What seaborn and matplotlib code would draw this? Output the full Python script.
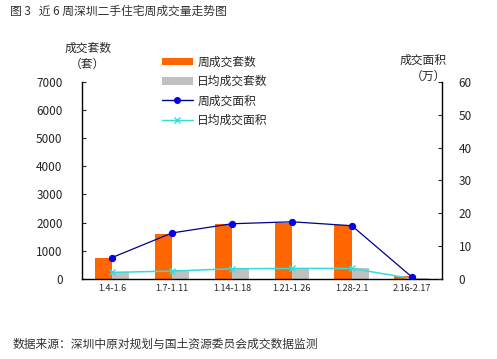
import matplotlib
matplotlib.use("Agg")
import matplotlib.pyplot as plt
import seaborn as sns
import numpy as np
import pandas as pd
from matplotlib.patches import Patch
from matplotlib.lines import Line2D

sns.set_style("white")
plt.rcParams['font.family'] = ['Noto Sans CJK SC', 'DejaVu Sans']

categories = ["1.4-1.6", "1.7-1.11", "1.14-1.18", "1.21-1.26", "1.28-2.1", "2.16-2.17"]
weekly_units = [750, 1600, 1950, 2000, 1900, 100]
daily_units = [250, 320, 390, 400, 400, 30]
weekly_area = [6.5, 14.0, 16.8, 17.4, 16.2, 0.6]
daily_area = [2.0, 2.4, 3.1, 3.2, 3.2, 0.1]
left_ticks = [0, 1000, 2000, 3000, 4000, 5000, 6000, 7000]
right_ticks = [0, 10, 20, 30, 40, 50, 60]

C_ORANGE = "#FF6600"
C_GRAY = "#C0C0C0"
C_BLUE = "#00008B"
C_BLUE_M = "#0000EE"
C_CYAN = "#33DDDD"

df = pd.DataFrame({
    "period": categories * 2,
    "value": weekly_units + daily_units,
    "series": ["周成交套数"] * len(categories) + ["日均成交套数"] * len(categories),
})

fig = plt.figure(figsize=(4.97, 3.59), dpi=100)
ax = fig.add_axes([0.165, 0.223, 0.724, 0.549])

sns.barplot(data=df, x="period", y="value", hue="series", order=categories,
            palette=[C_ORANGE, C_GRAY], width=0.58, ax=ax, legend=False,
            saturation=1, linewidth=0)
ax.set_ylim(0, 7000)
ax.set_yticks(left_ticks)
ax.set_xlabel("")
ax.set_ylabel("")
ax.set_xlim(-0.5, len(categories) - 0.5)

ax2 = ax.twinx()
xpos = np.arange(len(categories))
sns.lineplot(x=xpos, y=daily_area, ax=ax2, color=C_CYAN, marker="x",
             markersize=5, linewidth=1.1, markeredgecolor=C_CYAN, markeredgewidth=1)
sns.lineplot(x=xpos, y=weekly_area, ax=ax2, color=C_BLUE, marker="o",
             markersize=4.5, linewidth=0.9, markerfacecolor=C_BLUE_M,
             markeredgecolor=C_BLUE_M)
ax2.set_ylim(0, 60)
ax2.set_yticks(right_ticks)
ax2.set_xlim(-0.5, len(categories) - 0.5)

for a in (ax, ax2):
    a.spines['top'].set_visible(False)
    for s in ('left', 'right', 'bottom'):
        a.spines[s].set_color('black')
        a.spines[s].set_linewidth(1.0)
ax.spines['right'].set_visible(False)
ax2.spines['left'].set_visible(False)
ax2.spines['bottom'].set_visible(False)

ax.tick_params(axis='y', direction='in', length=3, labelsize=8.5, pad=14, left=True)
ax.tick_params(axis='x', direction='in', length=0, labelsize=6.5, pad=4)
ax2.tick_params(axis='y', direction='in', length=3, labelsize=8.5, pad=12, right=True)
ax.set_xticks(range(len(categories)))
ax.set_xticklabels(categories)
ax.set_xticks(np.arange(len(categories) + 1) - 0.5, minor=True)
ax.tick_params(axis='x', which='minor', direction='in', length=2)

fig.text(0.02, 0.968, "图 3   近 6 周深圳二手住宅周成交量走势图", fontsize=8.5, va='center', color='#333333')
fig.text(0.177, 0.866, "成交套数", fontsize=8.5, ha='center', va='center')
fig.text(0.175, 0.821, "（套）", fontsize=8.5, ha='center', va='center')
fig.text(0.852, 0.832, "成交面积", fontsize=8.5, ha='center', va='center')
fig.text(0.862, 0.787, "（万）", fontsize=8.5, ha='center', va='center')
fig.text(0.025, 0.04, "数据来源：深圳中原对规划与国土资源委员会成交数据监测", fontsize=8.5, va='center', color='#333333')

handles = [
    Patch(facecolor=C_ORANGE, edgecolor='none'),
    Patch(facecolor=C_GRAY, edgecolor='none'),
    Line2D([], [], color=C_BLUE, marker='o', markersize=4, markerfacecolor=C_BLUE_M, markeredgecolor=C_BLUE_M, linewidth=1),
    Line2D([], [], color=C_CYAN, marker='x', markersize=4, linewidth=1),
]
labels = ["周成交套数", "日均成交套数", "周成交面积", "日均成交面积"]
fig.legend(handles, labels, loc='upper left', bbox_to_anchor=(0.314, 0.862),
           frameon=False, fontsize=8.5, handlelength=2.6, handleheight=0.6,
           labelspacing=0.55, handletextpad=0.4, borderpad=0)

fig.savefig("out.png", dpi=100)
